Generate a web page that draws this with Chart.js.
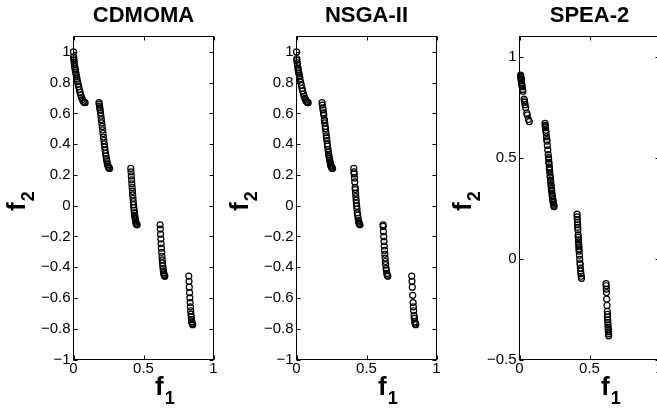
<!DOCTYPE html>
<html><head><meta charset="utf-8">
<script src="https://cdn.jsdelivr.net/npm/chart.js@4.4.0/dist/chart.umd.min.js"></script>
<style>
html,body{margin:0;padding:0;background:#fff;overflow:hidden;width:657px;height:410px;}
.panel{position:absolute;top:0;width:223px;height:410px;}
</style></head><body>
<div class="panel" style="left:0px"><canvas id="c1" width="223" height="410"></canvas></div>
<div class="panel" style="left:223px"><canvas id="c2" width="223" height="410"></canvas></div>
<div class="panel" style="left:446px"><canvas id="c3" width="223" height="410"></canvas></div>
<script>
const titles = ['CDMOMA', 'NSGA-II', 'SPEA-2'];
const xTicks = [0, 0.5, 1];
const yTicksA = [-1, -0.8, -0.6, -0.4, -0.2, 0, 0.2, 0.4, 0.6, 0.8, 1];
const yTicksB = [-0.5, 0, 0.5, 1];

const cdmomaF1 = [0,0.001,0.002,0.003,0.005,0.007,0.009,0.011,0.013,0.016,0.019,0.022,0.025,0.029,0.033,0.037,0.042,0.047,0.052,0.058,0.064,0.070,0.076,0.083,
0.1822,0.184,0.186,0.188,0.190,0.193,0.196,0.199,0.202,0.205,0.208,0.211,0.214,0.217,0.220,0.223,0.226,0.229,0.232,0.235,0.238,0.241,0.244,0.247,0.250,0.254,0.2578,
0.4093,0.411,0.413,0.415,0.417,0.419,0.421,0.423,0.425,0.427,0.429,0.431,0.433,0.435,0.437,0.439,0.441,0.443,0.445,0.447,0.449,0.4515,0.4539,
0.6184,0.620,0.622,0.624,0.626,0.628,0.630,0.632,0.634,0.636,0.638,0.640,0.642,0.644,0.646,0.648,0.650,0.6525,
0.8233,0.825,0.827,0.829,0.831,0.833,0.835,0.837,0.839,0.841,0.843,0.845,0.847,0.849,0.8518];
const cdmomaF2 = [1.000,0.9684,0.9552,0.9449,0.9285,0.9148,0.9026,0.8914,0.8808,0.8658,0.8515,0.8377,0.8242,0.8068,0.7899,0.7737,0.7544,0.7364,0.7201,0.7030,0.6891,0.6788,0.6723,0.6696,
0.6698,0.6597,0.6479,0.6356,0.6228,0.6028,0.5818,0.5602,0.5379,0.5151,0.4922,0.4692,0.4463,0.4237,0.4017,0.3803,0.3598,0.3405,0.3224,0.3058,0.2909,0.2777,0.2664,0.2571,0.2500,0.2440,0.2422,
0.2423,0.2197,0.1933,0.1674,0.1420,0.1172,0.0931,0.0699,0.0476,0.0262,0.0060,-0.0130,-0.0307,-0.0471,-0.0622,-0.0757,-0.0876,-0.0979,-0.1066,-0.1136,-0.1189,-0.1229,-0.1242,
-0.1242,-0.1518,-0.1851,-0.2171,-0.2476,-0.2764,-0.3034,-0.3286,-0.3518,-0.3730,-0.3920,-0.4087,-0.4231,-0.4351,-0.4446,-0.4517,-0.4562,-0.4583,
-0.4579,-0.4917,-0.5297,-0.5656,-0.5989,-0.6297,-0.6578,-0.6831,-0.7054,-0.7247,-0.7409,-0.7538,-0.7636,-0.7700,-0.7733];

const nsgaF1 = [0,0.002,0.003,0.005,0.007,0.010,0.012,0.015,0.017,0.020,0.022,0.025,0.030,0.035,0.040,0.044,0.050,0.055,0.060,0.065,0.070,0.075,0.080,0.083,
0.1822,0.185,0.188,0.190,0.193,0.195,0.199,0.200,0.202,0.205,0.207,0.210,0.213,0.215,0.217,0.220,0.222,0.225,0.228,0.230,0.232,0.234,0.237,0.240,0.243,0.245,0.247,0.250,0.255,0.2578,
0.4093,0.411,0.412,0.414,0.416,0.419,0.420,0.422,0.424,0.426,0.428,0.430,0.432,0.435,0.437,0.440,0.443,0.445,0.447,0.450,0.4539,
0.6184,0.619,0.621,0.623,0.625,0.627,0.629,0.631,0.633,0.635,0.637,0.640,0.642,0.645,0.648,0.6525,
0.8233,0.825,0.827,0.830,0.833,0.835,0.837,0.840,0.842,0.845,0.847,0.850,0.8518];
const nsgaF2 = [1.000,0.9552,0.9449,0.9285,0.9148,0.8969,0.8860,0.8707,0.8610,0.8468,0.8377,0.8242,0.8025,0.7817,0.7620,0.7470,0.7264,0.7112,0.6980,0.6871,0.6788,0.6731,0.6702,0.6696,
0.6698,0.6539,0.6356,0.6228,0.6028,0.5889,0.5602,0.5528,0.5379,0.5151,0.4999,0.4768,0.4539,0.4387,0.4237,0.4017,0.3873,0.3666,0.3468,0.3343,0.3224,0.3112,0.2957,0.2819,0.2699,0.2630,0.2571,0.2500,0.2431,0.2422,
0.2423,0.2197,0.2064,0.1803,0.1546,0.1172,0.1050,0.0814,0.0586,0.0367,0.0160,-0.0036,-0.0220,-0.0471,-0.0622,-0.0817,-0.0979,-0.1066,-0.1136,-0.1208,-0.1242,
-0.1242,-0.1347,-0.1686,-0.2013,-0.2325,-0.2621,-0.2901,-0.3163,-0.3404,-0.3627,-0.3827,-0.4087,-0.4231,-0.4402,-0.4517,-0.4583,
-0.4579,-0.4917,-0.5297,-0.5825,-0.6297,-0.6578,-0.6831,-0.7153,-0.7332,-0.7538,-0.7636,-0.7720,-0.7733];

const speaF1 = [0.008,0.009,0.010,0.011,0.012,0.013,0.015,0.017,0.019,0.022,0.024,0.033,0.035,0.037,0.040,0.044,0.052,0.055,0.064,0.070,
0.1822,0.184,0.185,0.186,0.188,0.190,0.193,0.195,0.196,0.199,0.202,0.205,0.207,0.208,0.210,0.211,0.213,0.214,0.215,0.217,0.219,0.220,0.222,0.223,0.225,0.226,0.228,0.229,0.230,0.232,0.234,0.235,0.237,0.238,0.240,0.241,0.243,0.245,0.247,
0.411,0.412,0.413,0.414,0.415,0.416,0.417,0.419,0.420,0.421,0.422,0.423,0.424,0.425,0.426,0.428,0.430,0.432,0.433,0.435,0.437,0.439,0.441,0.443,
0.6184,0.619,0.620,0.621,0.623,0.625,0.627,0.628,0.629,0.630,0.631,0.632,0.633,0.634,0.635,0.636,0.637];
const speaF2 = [0.9086,0.9026,0.8969,0.8914,0.8860,0.8808,0.8707,0.8610,0.8515,0.8377,0.8287,0.7899,0.7817,0.7737,0.7620,0.7470,0.7201,0.7112,0.6891,0.6788,
0.6698,0.6597,0.6539,0.6479,0.6356,0.6228,0.6028,0.5889,0.5818,0.5602,0.5379,0.5151,0.4999,0.4922,0.4768,0.4692,0.4539,0.4463,0.4387,0.4237,0.4089,0.4017,0.3873,0.3803,0.3666,0.3598,0.3468,0.3405,0.3343,0.3224,0.3112,0.3058,0.2957,0.2909,0.2819,0.2777,0.2699,0.2630,0.2571,
0.2197,0.2064,0.1933,0.1803,0.1674,0.1546,0.1420,0.1172,0.1050,0.0931,0.0814,0.0699,0.0586,0.0476,0.0367,0.0160,-0.0036,-0.0220,-0.0307,-0.0471,-0.0622,-0.0757,-0.0876,-0.0979,
-0.1242,-0.1347,-0.1518,-0.1686,-0.2013,-0.2325,-0.2621,-0.2764,-0.2901,-0.3034,-0.3163,-0.3286,-0.3404,-0.3518,-0.3627,-0.3730,-0.3827];

const FONT = "'Liberation Sans', Arial, Helvetica, sans-serif";

function fmt(v) {
  const s = (Math.round(v * 10) / 10).toString();
  return s.replace('-', '\u2212');
}

const framePlugin = {
  id: 'frame',
  afterDraw(chart, args, opts) {
    const ctx = chart.ctx, a = chart.chartArea, xs = chart.scales.x, ys = chart.scales.y;
    ctx.save();
    ctx.strokeStyle = '#000';
    ctx.lineWidth = 1;
    ctx.strokeRect(a.left, a.top, a.right - a.left, a.bottom - a.top);
    const L = 4;
    ctx.beginPath();
    xs.ticks.forEach(t => {
      const p = Math.round(xs.getPixelForValue(t.value)) + 0.5;
      ctx.moveTo(p, a.bottom); ctx.lineTo(p, a.bottom - L);
      ctx.moveTo(p, a.top); ctx.lineTo(p, a.top + L);
    });
    ys.ticks.forEach(t => {
      const p = Math.round(ys.getPixelForValue(t.value)) + 0.5;
      ctx.moveTo(a.left, p); ctx.lineTo(a.left + L, p);
      ctx.moveTo(a.right, p); ctx.lineTo(a.right - L, p);
    });
    ctx.stroke();
    ctx.fillStyle = '#000';
    ctx.textBaseline = 'alphabetic';
    ctx.textAlign = 'center';
    ctx.font = 'bold 22px ' + FONT;
    ctx.fillText(opts.title, (a.left + a.right) / 2, 22);
    ctx.textAlign = 'left';
    // x axis label f1
    ctx.font = 'bold 26px ' + FONT;
    const fw = ctx.measureText('f').width;
    const fx = a.left + 81.5;
    ctx.fillText('f', fx, 395);
    ctx.font = 'bold 18px ' + FONT;
    ctx.fillText('1', fx + fw + 1, 404);
    // y axis label f2
    ctx.translate(a.left - 48.5, 211);
    ctx.rotate(-Math.PI / 2);
    ctx.font = 'bold 26px ' + FONT;
    ctx.fillText('f', 0, 0);
    ctx.font = 'bold 18px ' + FONT;
    ctx.fillText('2', fw + 1, 9);
    ctx.restore();
  }
};

function makeChart(id, title, f1, f2, yMin, yMax, yTicks) {
  const pts = f1.map((x, i) => ({ x: x, y: f2[i] }));
  return new Chart(document.getElementById(id), {
    type: 'scatter',
    data: { datasets: [{
      data: pts,
      showLine: false,
      pointStyle: 'circle',
      pointRadius: 3,
      pointHoverRadius: 3,
      pointBorderWidth: 1.2,
      pointBorderColor: '#000',
      pointBackgroundColor: 'rgba(0,0,0,0)',
      clip: false
    }]},
    options: {
      responsive: false,
      animation: false,
      devicePixelRatio: 1,
      events: [],
      layout: { padding: { left: 0, right: 9.5, top: 36.5, bottom: 0 } },
      plugins: { legend: { display: false }, tooltip: { enabled: false }, frame: { title: title } },
      scales: {
        x: {
          type: 'linear', min: 0, max: 1,
          afterBuildTicks: s => { s.ticks = xTicks.map(v => ({ value: v })); },
          afterFit: s => { s.height = 50.5; },
          grid: { display: false, drawTicks: false }, border: { display: false },
          ticks: { color: '#000', font: { family: FONT, size: 15 }, padding: 0, maxRotation: 0, autoSkip: false, callback: v => fmt(v) }
        },
        y: {
          type: 'linear', min: yMin, max: yMax,
          afterBuildTicks: s => { s.ticks = yTicks.map(v => ({ value: v })); },
          afterFit: s => { s.width = 73.5; },
          grid: { display: false, drawTicks: false }, border: { display: false },
          ticks: { color: '#000', font: { family: FONT, size: 15 }, padding: 3, autoSkip: false, callback: v => fmt(v) }
        }
      }
    },
    plugins: [framePlugin]
  });
}

makeChart('c1', titles[0], cdmomaF1, cdmomaF2, -1, 1.1, yTicksA);
makeChart('c2', titles[1], nsgaF1, nsgaF2, -1, 1.1, yTicksA);
makeChart('c3', titles[2], speaF1, speaF2, -0.5, 1.1, yTicksB);
</script>
</body></html>
